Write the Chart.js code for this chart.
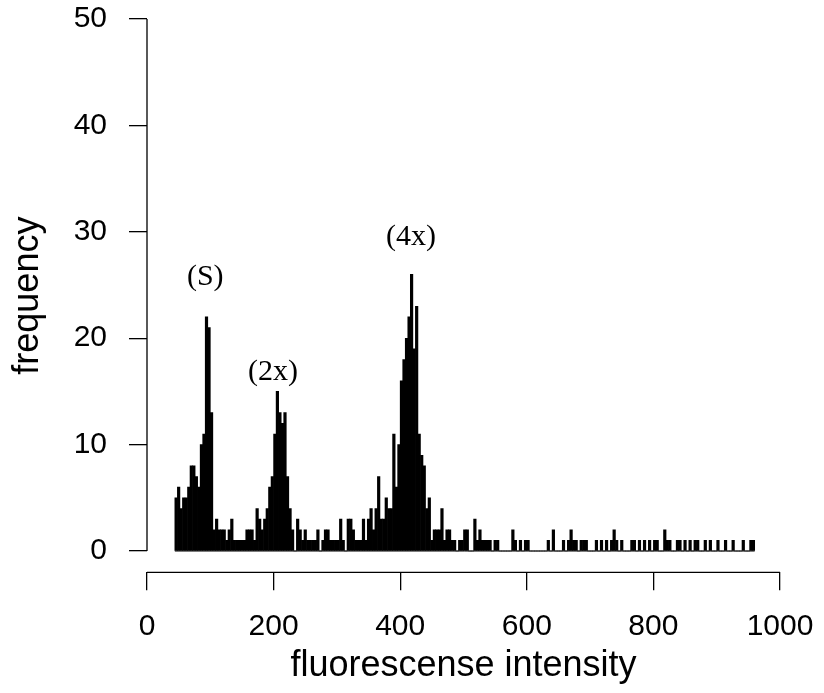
<!DOCTYPE html>
<html>
<head>
<meta charset="utf-8">
<title>fluorescense intensity histogram</title>
<script src="https://cdn.jsdelivr.net/npm/chart.js@4.4.1/dist/chart.umd.min.js"></script>
<style>
    html, body { margin: 0; padding: 0; background: #fff; }
    #wrap { width: 824px; height: 693px; position: relative; }
</style>
</head>
<body>
<div id="wrap"><canvas id="histChart"></canvas></div>
<script>
// Histogram of fluorescense intensity - bins are 4 units wide, first bin starts at 44
const binStart = 44;
const binWidth = 4;
const counts = [
    5, 6, 4, 5, 5, 6, 8, 8, 7, 6, 10, 11, 22, 21, 13,
    2, 3, 2, 2, 2, 1, 2, 3, 1, 1, 1, 1, 1, 2, 2, 2, 1,
    4, 3, 2, 3, 4, 6, 7, 11, 15, 13, 12, 13, 7, 4, 2, 0, 3, 2, 1, 2, 1, 1,
    1, 1, 2, 0, 1, 2, 2, 1, 1, 1, 1,
    3, 1, 0, 3, 3, 2, 1, 1, 1, 3, 1, 3, 4, 2, 4, 7, 3, 3, 5, 4, 4, 11, 6, 10, 16,
    18, 20, 22, 26, 19, 23, 11, 9, 8, 4, 5, 1, 2, 2, 2, 4, 1, 2, 2, 1, 1, 0, 1,
    1, 2, 2, 0, 0, 3, 1, 2, 1, 1, 1, 1, 0, 1, 1, 0, 0, 0, 0, 0, 2, 1, 0, 1, 0,
    1, 1, 0, 0, 0, 0, 0, 0, 0, 1, 0, 2, 0, 0, 0, 1, 0, 1, 2, 1, 1, 0, 1, 1, 1, 0, 0, 0, 1, 0,
    1, 0, 1, 0, 1, 2, 1, 0, 1, 0, 0, 0, 1, 1, 0, 1, 0, 1, 0, 1, 0, 1, 1, 0, 0,
    2, 1, 1, 0, 0, 1, 1, 0, 1, 0, 1, 0, 1, 1, 0, 0, 1, 0, 1, 0, 0, 1, 0, 0, 1,
    0, 0, 1, 0, 0, 0, 1, 0, 0, 1, 1
];
const xTicks = [0, 200, 400, 600, 800, 1000];
const yTicks = [0, 10, 20, 30, 40, 50];
const peakLabels = ['(S)', '(2x)', '(4x)'];
const peakX = [92, 199, 417];
const peakY = [25.7, 16.8, 29.5];

(function() {
    'use strict';

    const sans = "'Liberation Sans', Arial, sans-serif";
    const serif = "'Liberation Serif', 'Times New Roman', serif";

    // R style axes: lines only span first..last tick, plus peak labels
    const rAxes = {
        id: 'rAxes',
        afterDraw(chart) {
            const {ctx, chartArea, scales: {x, y}} = chart;
            ctx.save();
            ctx.strokeStyle = '#000';
            ctx.lineWidth = 1.3;
            ctx.beginPath();
            ctx.moveTo(chartArea.left, y.getPixelForValue(yTicks[0]));
            ctx.lineTo(chartArea.left, y.getPixelForValue(yTicks[yTicks.length - 1]));
            ctx.moveTo(x.getPixelForValue(xTicks[0]), chartArea.bottom);
            ctx.lineTo(x.getPixelForValue(xTicks[xTicks.length - 1]), chartArea.bottom);
            ctx.stroke();

            ctx.fillStyle = '#000';
            ctx.font = '30px ' + serif;
            ctx.textAlign = 'center';
            ctx.textBaseline = 'middle';
            peakLabels.forEach((t, i) => {
                ctx.fillText(t, x.getPixelForValue(peakX[i]), y.getPixelForValue(peakY[i]));
            });
            ctx.restore();
        }
    };

    // keep tick labels from pushing the plot area around
    function noPadding(scale) {
        scale.paddingTop = 0;
        scale.paddingBottom = 0;
        scale.paddingLeft = 0;
        scale.paddingRight = 0;
    }

    const bars = counts.map((c, i) => ({x: binStart + binWidth * (i + 0.5), y: c}));
    const baseline = [
        {x: binStart, y: 0},
        {x: binStart + binWidth * counts.length, y: 0}
    ];

    new Chart(document.getElementById('histChart'), {
        type: 'bar',
        data: {
            datasets: [{
                type: 'line',
                data: baseline,
                borderColor: '#000',
                borderWidth: 1,
                pointRadius: 0,
                order: 2
            }, {
                data: bars,
                backgroundColor: '#000',
                borderWidth: 0,
                barPercentage: 1,
                categoryPercentage: 1,
                order: 1
            }]
        },
        options: {
            responsive: true,
            maintainAspectRatio: false,
            animation: false,
            layout: {
                padding: {top: 19, right: 44, bottom: 0, left: 0}
            },
            plugins: {
                legend: {display: false},
                tooltip: {enabled: false}
            },
            scales: {
                x: {
                    type: 'linear',
                    min: 0,
                    max: 1000,
                    offset: false,
                    afterBuildTicks: function(scale) {
                        scale.ticks = xTicks.map(v => ({value: v}));
                    },
                    afterFit: function(scale) {
                        scale.height = 120.7;
                        noPadding(scale);
                    },
                    border: {display: false},
                    grid: {
                        offset: false,
                        drawOnChartArea: false,
                        drawTicks: true,
                        tickLength: 18,
                        color: '#000',
                        lineWidth: 1.3
                    },
                    ticks: {
                        color: '#000',
                        padding: 18,
                        maxRotation: 0,
                        autoSkip: false,
                        font: {family: sans, size: 30},
                        callback: function(value) {
                            return String(value);
                        }
                    },
                    title: {
                        display: true,
                        text: 'fluorescense intensity',
                        color: '#000',
                        padding: {top: 0, bottom: 5},
                        font: {family: sans, size: 36}
                    }
                },
                y: {
                    min: -2,
                    max: 50,
                    afterBuildTicks: function(scale) {
                        scale.ticks = yTicks.map(v => ({value: v}));
                    },
                    afterFit: function(scale) {
                        scale.width = 147;
                        noPadding(scale);
                    },
                    border: {display: false},
                    grid: {
                        drawOnChartArea: false,
                        drawTicks: true,
                        tickLength: 18,
                        color: '#000',
                        lineWidth: 1.3
                    },
                    ticks: {
                        color: '#000',
                        padding: 22,
                        font: {family: sans, size: 30},
                        callback: function(value) {
                            return String(value);
                        }
                    },
                    title: {
                        display: true,
                        text: 'frequency',
                        color: '#000',
                        padding: {top: 6, bottom: 0},
                        font: {family: sans, size: 36}
                    }
                }
            }
        },
        plugins: [rAxes]
    });
})();
</script>
</body>
</html>
